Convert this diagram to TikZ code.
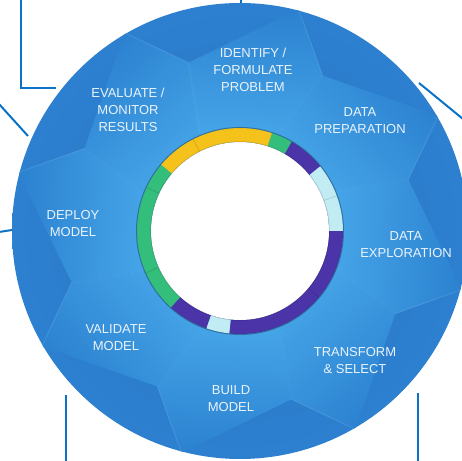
\documentclass[tikz,border=0pt]{standalone}
\usepackage{fontspec}
\setmainfont{Liberation Sans}
\usetikzlibrary{calc}
\definecolor{ringdark}{HTML}{2676C6}
\definecolor{ringouter}{HTML}{2D80CF}
\definecolor{seglight}{HTML}{47A6E9}
\definecolor{segdark}{HTML}{2C82D0}
\definecolor{lblcol}{HTML}{EAF3FB}
\definecolor{conn}{HTML}{0B73C7}
\definecolor{ryellow}{HTML}{F4C21A}
\definecolor{rgreen}{HTML}{34BE7B}
\definecolor{rpurple}{HTML}{4B33A8}
\definecolor{rcyan}{HTML}{C2ECF4}
\begin{document}
\begin{tikzpicture}[x=1pt,y=1pt,
  lbl/.style={text=lblcol, font=\fontsize{13}{17}\selectfont, align=center, inner sep=0pt},
  connline/.style={draw=conn, line width=2pt},
  sep/.style={draw=black, opacity=0.12, line width=0.8pt}]
\useasboundingbox (0,0) rectangle (462,460);
\begin{scope}[shift={(240,229)}]
  % dark ring background
  \shade[inner color=ringdark, outer color=ringouter] (0,0) circle (228);
  % light chevron segments
  \begin{scope}
    \clip (0,0) circle (228);
    \foreach \c in {87,42,-3,-48,-93,-138,-183,-228} {
      \pgfmathsetmacro{\sa}{\c-90}
      \shade[left color=segdark, right color=seglight, shading angle=\sa]
        ({\c+27}:96) -- ({\c+20}:176) -- ({\c-12}:230) -- ({\c-25}:176) -- ({\c-18}:96) -- cycle;
      \draw[white, opacity=0.10, line width=0.8pt] ({\c-12}:228) -- ({\c-25}:176) -- ({\c-18}:96);
    }
  \end{scope}
  % coloured inner ring
  \foreach \a/\b/\col in {-96/0/rpurple, 0/39/rcyan, 39/60/rpurple, 60/72/rgreen,
                          72/140/ryellow, 140/228/rgreen, 228/251/rpurple, 251/264/rcyan} {
    \fill[\col] (\a:103) arc[start angle=\a, end angle=\b, radius=103]
      -- (\b:89) arc[start angle=\b, end angle=\a, radius=89] -- cycle;
  }
  \foreach \a in {117,155,204,20,-40} {
    \draw[sep] (\a:89) -- (\a:103);
  }
  \draw[black, opacity=0.3, line width=1pt] (0,0) circle (103.5);
  \fill[white] (0,0) circle (89);
  \draw[black, opacity=0.15, line width=0.8pt] (0,0) circle (89.3);
\end{scope}

% labels
\node[lbl] (identify) at (253,390) {IDENTIFY /\\FORMULATE\\PROBLEM};
\node[lbl] (prep) at (360,339) {DATA\\PREPARATION};
\node[lbl] (explore) at (406,215) {DATA\\EXPLORATION};
\node[lbl] (transform) at (355,99) {TRANSFORM\\\& SELECT};
\node[lbl] (build) at (231,61) {BUILD\\MODEL};
\node[lbl] (validate) at (116,122) {VALIDATE\\MODEL};
\node[lbl] (deploy) at (73,236) {DEPLOY\\MODEL};
\node[lbl] (evaluate) at (128,350) {EVALUATE /\\MONITOR\\RESULTS};

% callout connector lines
\coordinate (c1a) at (21,461);
\coordinate (c1b) at (21,372);
\coordinate (c1c) at (56,372);
\draw[connline] (c1a) -- (c1b) -- (c1c);
\coordinate (c2a) at (-1,356);
\coordinate (c2b) at (28,324);
\draw[connline] (c2a) -- (c2b);
\coordinate (c3a) at (-1,228);
\coordinate (c3b) at (12,230);
\draw[connline] (c3a) -- (c3b);
\coordinate (c4a) at (241,461);
\coordinate (c4b) at (241,457);
\draw[connline] (c4a) -- (c4b);
\coordinate (c5a) at (419,377);
\coordinate (c5b) at (463,341);
\draw[connline] (c5a) -- (c5b);
\coordinate (c6a) at (66,65);
\coordinate (c6b) at (66,-1);
\draw[connline] (c6a) -- (c6b);
\coordinate (c7a) at (418,67);
\coordinate (c7b) at (418,-1);
\draw[connline] (c7a) -- (c7b);
\end{tikzpicture}
\end{document}
